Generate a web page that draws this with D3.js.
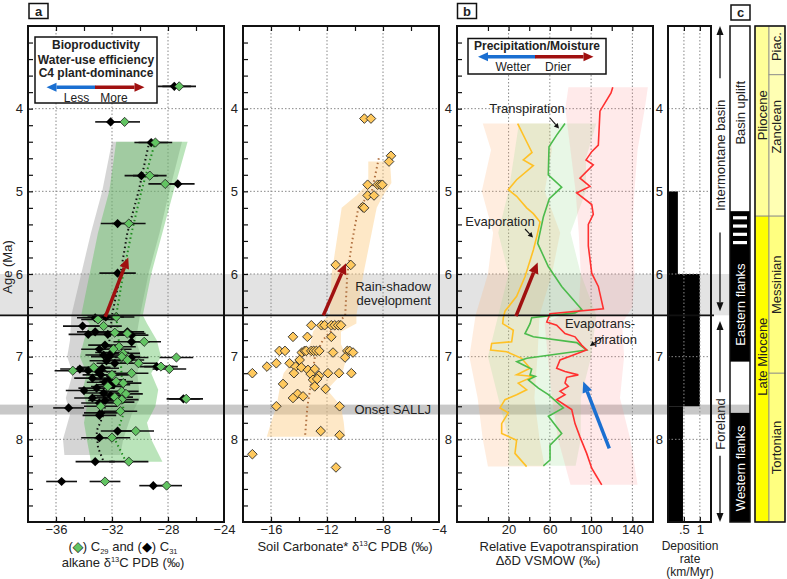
<!DOCTYPE html>
<html><head><meta charset="utf-8">
<script src="https://cdn.jsdelivr.net/npm/d3@7"></script>
<style>body{margin:0;background:#fff} text{font-family:"Liberation Sans",Arial,sans-serif;fill:#222}</style>
</head><body><svg id="c" width="787" height="579"></svg>
<script>
// ---------------- DATA ----------------
const ageTicks = [4,5,6,7,8];
const ageMinor = [3.2,3.4,3.6,3.8,4,4.2,4.4,4.6,4.8,5,5.2,5.4,5.6,5.8,6,6.2,6.4,6.6,6.8,7,7.2,7.4,7.6,7.8,8,8.2,8.4,8.6,8.8];
const aTicks = [-36,-34,-32,-30,-28,-26], aLabels = [-36,-32,-28,-24];
const sTicks = [-16,-14,-12,-10,-8,-6], sLabels = [-16,-12,-8,-4];
const bTicks = [0,20,40,60,80,100,120,140], bLabels = [20,60,100,140];
const dTicks = [0.5,1], dLabels = [".5","1"];
// panel a: [age, d13C, error]
const C29 = [[3.73,-27.2,1.2],[4.16,-31.1,1.1],[4.41,-28.9,1.2],[4.81,-29.3,1.2],[4.91,-28.2,1.2],[5.39,-30.8,1.2],[6.52,-31.7,1.3],[6.55,-33.0,1.2],[6.63,-32.6,1.3],[6.71,-31.8,1.2],[6.72,-30.9,1.3],[6.82,-29.7,1.2],[6.88,-31.5,1.2],[6.91,-31.9,1.3],[6.96,-31.2,1.2],[7.00,-31.3,1.3],[7.01,-27.4,1.2],[7.04,-30.9,1.2],[7.08,-30.1,1.3],[7.12,-28.5,1.2],[7.15,-27.9,1.2],[7.17,-34.8,1.3],[7.13,-33.3,1.2],[7.20,-30.6,1.2],[7.22,-32.0,1.2],[7.30,-31.7,1.2],[7.32,-31.2,1.3],[7.36,-32.3,1.2],[7.42,-31.3,1.2],[7.45,-31.0,1.2],[7.49,-31.8,1.3],[7.52,-31.3,1.2],[7.51,-26.7,1.2],[7.55,-31.6,1.2],[7.60,-32.8,1.2],[7.66,-31.4,1.2],[7.90,-30.3,1.3],[7.98,-32.0,1.3],[8.27,-30.8,1.4],[8.51,-32.5,1.1],[8.56,-28.1,1.1]];
const C31 = [[3.73,-27.55,1.2],[4.16,-32.1,1.1],[4.41,-29.2,1.2],[4.81,-29.9,1.2],[4.91,-27.3,1.2],[5.39,-31.6,1.2],[5.99,-31.6,1.3],[6.52,-32.45,1.3],[6.53,-33.2,1.3],[6.63,-34.1,1.4],[6.70,-33.2,1.3],[6.73,-33.7,1.4],[6.73,-32.3,1.3],[6.70,-30.9,1.2],[6.74,-30.6,1.2],[6.82,-30.6,1.3],[6.86,-32.5,1.2],[6.91,-32.9,1.3],[6.95,-32.0,1.2],[6.98,-32.6,1.3],[7.00,-32.2,1.3],[7.01,-30.6,1.2],[7.05,-32.4,1.2],[7.08,-31.8,1.3],[7.12,-28.8,1.2],[7.15,-34.3,1.4],[7.17,-33.7,1.3],[7.18,-33.0,1.3],[7.14,-32.7,1.2],[7.22,-32.8,1.3],[7.26,-33.4,1.3],[7.28,-32.2,1.2],[7.31,-32.5,1.3],[7.34,-31.9,1.2],[7.38,-33.1,1.3],[7.41,-34.0,1.3],[7.44,-32.6,1.3],[7.47,-32.1,1.2],[7.50,-33.4,1.3],[7.53,-32.5,1.2],[7.56,-32.9,1.3],[7.51,-26.9,1.2],[7.62,-35.1,1.1],[7.68,-32.8,1.2],[7.71,-32.9,1.2],[7.90,-31.6,1.2],[7.98,-32.9,1.3],[8.27,-33.2,1.4],[8.51,-35.6,1.1],[8.56,-29.05,1.0]];
// envelopes [age, low, high]
const C29band = [[4.4,-31.7,-26.6],[5.0,-32.2,-27.6],[5.5,-33.0,-28.4],[6.0,-33.6,-29.2],[6.5,-34.2,-29.8],[6.6,-33.6,-29.5],[6.8,-34.0,-28.8],[7.0,-34.3,-28.5],[7.2,-33.8,-29.2],[7.4,-34.1,-28.7],[7.6,-33.8,-28.9],[7.8,-34.0,-29.5],[8.0,-33.8,-29.2],[8.27,-33.5,-28.4]];
const C31band = [[4.4,-32.0,-27.0],[5.0,-32.7,-27.9],[5.5,-33.5,-28.6],[6.0,-34.2,-29.4],[6.5,-34.9,-30.0],[6.8,-35.0,-30.3],[7.0,-35.2,-29.9],[7.2,-34.8,-30.2],[7.5,-35.3,-30.0],[7.7,-35.0,-30.6],[8.0,-35.5,-31.2],[8.19,-35.4,-31.4]];
const C29mean = [[4.45,-29.0],[5.0,-29.9],[5.5,-30.6],[6.0,-31.2],[6.5,-31.7],[7.0,-31.4],[7.5,-31.2],[7.7,-31.2],[8.0,-31.8],[8.27,-31.0]];
const C31mean = [[4.45,-29.4],[5.0,-30.1],[5.5,-30.9],[6.0,-31.4],[6.5,-32.0],[7.0,-32.3],[7.5,-32.4],[7.7,-32.6],[7.9,-33.1],[8.1,-33.0],[8.27,-32.6]];
// panel soil carbonate [age, d13C]
const soil = [[4.12,-9.33],[4.12,-8.86],[4.57,-7.43],[4.64,-7.57],[4.92,-9.1],[4.92,-8.38],[4.92,-8.2],[4.92,-8.05],[5.05,-9.1],[5.05,-8.64],[5.19,-9.45],[5.20,-9.35],[5.89,-11.38],[5.89,-10.3],[6.62,-13.12],[6.62,-12.4],[6.62,-12.17],[6.62,-11.69],[6.62,-11.45],[6.62,-11.2],[6.62,-11.0],[6.76,-14.43],[6.76,-13.4],[6.76,-11.69],[6.93,-15.4],[6.93,-15.0],[6.95,-13.8],[6.93,-13.6],[6.93,-13.48],[6.93,-13.12],[6.93,-12.95],[6.93,-12.76],[6.93,-12.55],[6.95,-11.57],[6.93,-10.55],[6.93,-10.38],[6.95,-10.14],[7.01,-10.71],[7.04,-13.95],[7.08,-14.67],[7.08,-15.62],[7.12,-16.29],[7.12,-14.24],[7.13,-13.83],[7.16,-13.36],[7.15,-12.88],[7.20,-17.33],[7.20,-14.36],[7.21,-13.17],[7.23,-12.57],[7.20,-11.93],[7.20,-11.14],[7.20,-10.26],[7.28,-13.0],[7.27,-12.7],[7.33,-15.14],[7.36,-12.88],[7.39,-12.1],[7.45,-14.1],[7.50,-14.43],[7.48,-13.71],[7.60,-15.62],[7.60,-11.1],[7.90,-12.45],[7.95,-11.1],[8.18,-17.33],[8.34,-11.36]];
const soilBand = [[4.64,-9.05,-7.5],[4.9,-9.05,-7.4],[5.05,-9.9,-8.0],[5.2,-10.95,-8.45],[6.0,-11.67,-9.4],[6.5,-11.8,-9.9],[6.6,-12.6,-9.9],[6.7,-13.0,-11.0],[6.85,-13.2,-11.0],[7.0,-14.2,-10.6],[7.2,-15.1,-10.9],[7.4,-15.4,-12.0],[7.6,-15.6,-11.0],[7.8,-16.0,-10.8],[7.97,-16.3,-10.7]];
const soilMean = [[4.6,-8.3],[5.0,-8.8],[5.2,-9.76],[5.6,-10.2],[6.0,-10.55],[6.5,-10.7],[6.8,-12.3],[7.0,-12.86],[7.4,-13.21],[7.6,-13.4],[7.97,-13.57]];
// panel b lines [age, dD]
const evaporation = [[4.18,28.8],[4.40,37.5],[4.53,42.7],[4.62,34.3],[4.69,44.0],[4.86,27.8],[4.98,19.7],[5.06,27.8],[5.20,37.5],[5.27,44.0],[5.37,50.5],[5.55,47.3],[5.71,44.0],[6.03,36.0],[6.27,27.8],[6.45,16.5],[6.53,14.9],[6.60,14.3],[6.68,24.6],[6.82,23.0],[6.84,3.6],[6.92,2.6],[6.94,18.1],[7.02,32.7],[7.14,40.8],[7.22,27.8],[7.24,44.0],[7.32,29.4],[7.40,37.5],[7.46,27.8],[7.52,16.5],[7.62,11.7],[7.68,19.7],[7.81,13.3],[7.93,13.3],[8.01,27.8],[8.17,26.2],[8.33,37.5]];
const transpiration = [[4.18,74.7],[4.32,66.6],[4.46,59.2],[4.80,58.5],[4.95,71.5],[5.09,59.5],[5.31,53.7],[5.63,48.2],[5.91,58.5],[6.15,71.5],[6.43,90.9],[6.47,84.4],[6.53,42.4],[6.60,40.8],[6.72,35.9],[6.76,44.0],[6.83,86.0],[6.92,95.7],[7.02,37.7],[7.06,28.0],[7.10,34.4],[7.15,42.4],[7.22,40.8],[7.24,45.9],[7.28,39.2],[7.38,48.9],[7.46,58.6],[7.62,73.1],[7.72,58.6],[7.93,71.5],[8.07,60.2],[8.25,60.2],[8.32,53.7]];
const evapotranspiration = [[3.74,121],[3.81,119.3],[4.03,108.6],[4.44,107],[4.52,100.6],[4.62,95.1],[4.68,102.1],[4.84,89.2],[4.94,98.9],[5.02,86.0],[5.16,100.6],[5.28,102.1],[5.40,97.3],[5.66,97.3],[5.99,100.6],[6.15,107],[6.42,111.9],[6.48,60.2],[6.58,57.0],[6.62,66.6],[6.72,74.7],[6.76,84.4],[6.86,90.8],[6.92,95.7],[6.98,82.8],[7.04,69.9],[7.14,66.6],[7.18,74.7],[7.22,87.6],[7.25,76.3],[7.32,74.7],[7.36,77.9],[7.42,69.9],[7.46,74.7],[7.52,66.6],[7.60,76.3],[7.64,81.2],[7.81,84.4],[7.97,89.2],[8.17,95.7],[8.35,100.6],[8.45,105.4],[8.55,110.3]];
const evapBand = [[4.18,-5,60],[4.5,3,62],[5.0,-6,55],[5.5,5,70],[6.0,0,62],[6.5,-12,50],[7.0,-18,48],[7.5,-10,45],[8.0,-5,50],[8.33,0,55]];
const transBand = [[4.18,30,105],[4.6,25,95],[5.0,20,95],[5.5,10,80],[6.0,20,90],[6.5,10,105],[7.0,0,100],[7.5,10,90],[8.0,20,90],[8.32,20,85]];
const etBand = [[3.74,78,155],[4.0,75,152],[4.5,80,145],[5.0,85,142],[5.5,88,140],[6.0,90,142],[6.4,88,140],[6.6,55,130],[7.0,58,132],[7.5,62,128],[8.0,68,138],[8.55,80,145]];
// deposition rate [from age, to age, km/Myr]
const deposition = [[5.0,6.0,0.31],[6.0,7.6,1.0],[7.6,9.0,0.47]];
// stratigraphy
const epochs = [{name:"Pliocene",from:3,to:5.3,label:4.08,color:"#ffff99"},{name:"Late Miocene",from:5.3,to:9,label:7.0,color:"#ffff00"}];
const stages = [{name:"Piac.",from:3,to:3.59,label:3.25,color:"#ffffbf"},{name:"Zanclean",from:3.59,to:5.3,label:4.22,color:"#ffffb3"},{name:"Messinian",from:5.3,to:7.2,label:6.13,color:"#ffff80"},{name:"Tortonian",from:7.2,to:9,label:8.1,color:"#ffff80"}];
const tectBlack = [[5.24,7.06],[7.68,9.0]];
const tectStripes = [5.32,5.42,5.52,5.62];
const tectLabels = [{t:"Basin uplift",age:4.05,c:"#222"},{t:"Eastern flanks",age:6.37,c:"#fff"},{t:"Western flanks",age:8.35,c:"#fff"}];
const basinArrows = [{t:"Intermontane basin",from:3.0,to:6.45,tFrom:3.68,tTo:5.45},{t:"Foreland",from:6.57,to:9.0,tFrom:7.48,tTo:8.15}];
const bands = [{from:6.0,to:6.5,color:"#e3e3e3"},{from:7.58,to:7.7,color:"#c8c8c8"}];

// ---------------- SCALES ----------------
const svg = d3.select("#c");
const TOP = 26, BOT = 522;
const y = d3.scaleLinear().domain([3,9]).range([TOP,BOT]);
const xa = d3.scaleLinear().domain([-38,-24]).range([28,224]);
const xs = d3.scaleLinear().domain([-18,-4]).range([243,439]);
const xb = d3.scaleLinear().domain([-30,160]).range([457,653]);
const xd = d3.scaleLinear().domain([0,1.35]).range([668,711]);

// ---------------- HELPERS ----------------
function arrow(g,x1,y1,x2,y2,color,w,hl,hw){
  const a=Math.atan2(y2-y1,x2-x1), bx=x2-hl*Math.cos(a), by=y2-hl*Math.sin(a);
  g.append("line").attr("x1",x1).attr("y1",y1).attr("x2",bx).attr("y2",by).attr("stroke",color).attr("stroke-width",w);
  const px=-Math.sin(a)*hw, py=Math.cos(a)*hw;
  g.append("path").attr("d",`M${x2},${y2}L${bx+px},${by+py}L${bx-px},${by-py}Z`).attr("fill",color);
}
const diamond = r => `M0,${-r}L${r},0L0,${r}L${-r},0Z`;
function clip(id,x){ svg.append("clipPath").attr("id",id).append("rect").attr("x",x.range()[0]).attr("y",TOP).attr("width",x.range()[1]-x.range()[0]).attr("height",BOT-TOP); }
function grid(x,vals){
  const g=svg.append("g");
  vals.forEach(v=>g.append("line").attr("x1",x(v)).attr("x2",x(v)).attr("y1",TOP).attr("y2",BOT));
  ageTicks.forEach(a=>g.append("line").attr("x1",x.range()[0]).attr("x2",x.range()[1]).attr("y1",y(a)).attr("y2",y(a)));
  g.selectAll("line").attr("stroke","#888").attr("stroke-width",1).attr("stroke-dasharray","1.5,2");
}
function styleAxis(g){ g.select(".domain").remove(); g.selectAll(".tick line").attr("stroke","#111").attr("stroke-width",1.2); g.selectAll("text").attr("font-size",13).attr("fill","#222").style("font-family","Liberation Sans, Arial, sans-serif"); }
function frame(x,ticks,labels,fmt,leftMinor=true){
  const [x0,x1]=x.range();
  if(leftMinor) svg.append("g").attr("transform",`translate(${x0},0)`).call(d3.axisLeft(y).tickValues(ageMinor).tickSize(-5).tickFormat("")).call(styleAxis);
  svg.append("g").attr("transform",`translate(${x0},0)`).call(d3.axisLeft(y).tickValues(ageTicks).tickSize(0).tickPadding(5).tickFormat(d3.format("d"))).call(styleAxis);
  svg.append("g").attr("transform",`translate(0,${TOP})`).call(d3.axisTop(x).tickValues(ticks).tickSize(-5).tickFormat("")).call(styleAxis);
  svg.append("g").attr("transform",`translate(0,${BOT})`).call(d3.axisBottom(x).tickValues(ticks).tickSize(-5).tickFormat("")).call(styleAxis);
  svg.append("g").attr("transform",`translate(0,${BOT})`).call(d3.axisBottom(x).tickValues(labels).tickSize(0).tickPadding(2.5).tickFormat(fmt)).call(styleAxis);
  svg.append("rect").attr("x",x0).attr("y",TOP).attr("width",x1-x0).attr("height",BOT-TOP).attr("fill","none").attr("stroke","#111").attr("stroke-width",2);
}
function areaOf(x,band,fill,cl){
  svg.append("path").attr("clip-path",`url(#${cl})`).attr("d",d3.area().y(d=>y(d[0])).x0(d=>x(d[1])).x1(d=>x(d[2]))(band)).attr("fill",fill);
}
function lineOf(x,data,stroke,w,dash,cl){
  svg.append("path").attr("clip-path",`url(#${cl})`).attr("d",d3.line().y(d=>y(d[0])).x(d=>x(d[1]))(data)).attr("fill","none").attr("stroke",stroke).attr("stroke-width",w).attr("stroke-dasharray",dash);
}
function boxLabel(t,x,yy){
  const g=svg.append("g");
  g.append("rect").attr("x",x).attr("y",yy).attr("width",19).attr("height",15).attr("fill","#fff").attr("stroke","#111").attr("stroke-width",1.5);
  g.append("text").attr("x",x+9.5).attr("y",yy+12).attr("text-anchor","middle").attr("font-weight","bold").attr("font-size",13).text(t);
}

clip("ca",xa); clip("cs",xs); clip("cb",xb);

// ---------------- BACKGROUND BANDS ----------------
bands.forEach(b=>svg.append("rect").attr("x",0).attr("width",750).attr("y",y(b.from)).attr("height",y(b.to)-y(b.from)).attr("fill",b.color));

// ---------------- PANEL a ----------------
grid(xa,[-36,-32,-28]);
areaOf(xa,C31band,"rgba(150,150,150,0.40)","ca");
areaOf(xa,C29band,"rgba(90,190,90,0.42)","ca");
lineOf(xa,C31mean,"#111",2,"1.5,3","ca");
lineOf(xa,C29mean,"#1e8c1e",2,"1.5,3","ca");
const ga=svg.append("g").attr("clip-path","url(#ca)");
[...C31,...C29].forEach(d=>ga.append("line").attr("x1",xa(d[1]-d[2])).attr("x2",xa(d[1]+d[2])).attr("y1",y(d[0])).attr("y2",y(d[0])).attr("stroke","#111").attr("stroke-width",1.6));
C31.forEach(d=>ga.append("path").attr("transform",`translate(${xa(d[1])},${y(d[0])})`).attr("d",diamond(4.6)).attr("fill","#000"));
C29.forEach(d=>ga.append("path").attr("transform",`translate(${xa(d[1])},${y(d[0])})`).attr("d",diamond(4.6)).attr("fill","#62c462").attr("stroke","#1a1a1a").attr("stroke-width",0.8));

// ---------------- PANEL soil ----------------
grid(xs,[-16,-12,-8]);
areaOf(xs,soilBand,"rgba(253,205,130,0.45)","cs");
lineOf(xs,soilMean,"#b07040",2,"1.5,3","cs");
const gs=svg.append("g").attr("clip-path","url(#cs)");
soil.forEach(d=>gs.append("path").attr("transform",`translate(${xs(d[1])},${y(d[0])})`).attr("d",diamond(4.8)).attr("fill","#ffc95e").attr("stroke","#2a2a2a").attr("stroke-width",0.9));

// ---------------- PANEL b ----------------
grid(xb,[20,60,100,140]);
areaOf(xb,evapBand,"rgba(255,175,110,0.22)","cb");
areaOf(xb,transBand,"rgba(150,220,140,0.22)","cb");
areaOf(xb,etBand,"rgba(255,140,140,0.18)","cb");
lineOf(xb,evaporation,"#ffc125",1.6,null,"cb");
lineOf(xb,transpiration,"#4cbb4c",1.6,null,"cb");
lineOf(xb,evapotranspiration,"#ff3030",1.6,null,"cb");

// ---------------- DEPOSITION ----------------
const gd=svg.append("g");
deposition.forEach(d=>gd.append("rect").attr("x",xd(0)).attr("width",xd(d[2])-xd(0)).attr("y",y(d[0])).attr("height",y(d[1])-y(d[0])).attr("fill","#000"));
[0.5,1].forEach(v=>gd.append("line").attr("x1",xd(v)).attr("x2",xd(v)).attr("y1",TOP).attr("y2",BOT).attr("stroke","#888").attr("stroke-dasharray","1.5,2"));
ageTicks.forEach(a=>gd.append("line").attr("x1",xd(0)).attr("x2",xd(1.35)).attr("y1",y(a)).attr("y2",y(a)).attr("stroke","#888").attr("stroke-dasharray","1.5,2"));

// 6.5 Ma line
svg.append("line").attr("x1",0).attr("x2",714).attr("y1",y(6.5)).attr("y2",y(6.5)).attr("stroke","#111").attr("stroke-width",1.6);

frame(xa,aTicks,aLabels,d3.format("d"));
frame(xs,sTicks,sLabels,d3.format("d"));
frame(xb,bTicks,bLabels,d3.format("d"));
frame(xd,dTicks,dTicks,(d,i)=>dLabels[i],false);

// ---------------- ARROWS ----------------
const dark="#a01010";
arrow(svg,xa(-32.48),y(6.52),xa(-30.84),y(5.8),dark,3.5,11,5);
arrow(svg,xs(-12.26),y(6.5),xs(-10.64),y(5.87),dark,3.5,11,5);
arrow(svg,xb(27.2),y(6.51),xb(48.2),y(5.86),dark,3.5,11,5);
arrow(svg,xb(117.6),y(8.11),xb(92.4),y(7.30),"#1a6fd1",3.5,11,5);

// ---------------- TEXT ANNOTATIONS ----------------
function txt(x,yy,t,o={}){ return svg.append("text").attr("x",x).attr("y",yy).attr("text-anchor",o.anchor||"middle").attr("font-size",o.size||13).attr("font-weight",o.bold?"bold":null).text(t); }
txt(431,291,"Rain-shadow",{anchor:"end"});
txt(431,305,"development",{anchor:"end"});
txt(431,414,"Onset SALLJ",{anchor:"end"});
txt(527,113,"Transpiration");
arrow(svg,550,118,559,128.5,"#111",1.1,5,2.6);
txt(500,226,"Evaporation");
arrow(svg,525,229,533,237.5,"#111",1.1,5,2.6);
txt(635,328,"Evapotrans-",{anchor:"end"});
txt(637,344,"piration",{anchor:"end"});
arrow(svg,603,337,590,346,"#111",1.1,5,2.6);

// legend a
svg.append("rect").attr("x",35).attr("y",37).attr("width",122).attr("height",66).attr("fill","#fff").attr("stroke","#111").attr("stroke-width",1.5);
txt(96,48.5,"Bioproductivity",{bold:true,size:12});
txt(96,63.5,"Water-use efficiency",{bold:true,size:12});
txt(96,77,"C4 plant-dominance",{bold:true,size:12});
arrow(svg,95.5,87.3,46.5,87.3,"#1a6fd1",3.5,10,4.5);
arrow(svg,95,87.3,144.5,87.3,dark,3.5,10,4.5);
txt(76.5,101.5,"Less",{size:12}); txt(114,101.5,"More",{size:12});
// legend b
svg.append("rect").attr("x",468).attr("y",38.5).attr("width",138).attr("height",35.5).attr("fill","#fff").attr("stroke","#111").attr("stroke-width",1.5);
txt(537,49.5,"Precipitation/Moisture",{bold:true,size:12});
arrow(svg,535.5,56.7,478,56.7,"#1a6fd1",3.5,10,4.5);
arrow(svg,535,56.7,593.5,56.7,dark,3.5,10,4.5);
txt(513,71,"Wetter",{size:12}); txt(558,71,"Drier",{size:12});

boxLabel("a",29,3.5); boxLabel("b",457.5,3.5); boxLabel("c",731,5);

// axis titles
svg.append("text").attr("transform","translate(12,267) rotate(-90)").attr("text-anchor","middle").attr("font-size",13).text("Age (Ma)");
const t1=svg.append("text").attr("x",123).attr("y",551).attr("text-anchor","middle").attr("font-size",13);
t1.append("tspan").text("(");
t1.append("tspan").text("◆").attr("fill","#62c462").attr("stroke","#111").attr("stroke-width",0.6);
t1.append("tspan").text(") C");
t1.append("tspan").text("29").attr("font-size",7.5).attr("dy",2.5);
t1.append("tspan").text(" and (").attr("dy",-2.5);
t1.append("tspan").text("◆").attr("fill","#000");
t1.append("tspan").text(") C");
t1.append("tspan").text("31").attr("font-size",7.5).attr("dy",2.5);
const t2=svg.append("text").attr("x",123).attr("y",567).attr("text-anchor","middle").attr("font-size",13);
t2.append("tspan").text("alkane δ");
t2.append("tspan").text("13").attr("font-size",7.5).attr("dy",-5);
t2.append("tspan").text("C PDB (‰)").attr("dy",5);
const t3=svg.append("text").attr("x",345).attr("y",551).attr("text-anchor","middle").attr("font-size",13);
t3.append("tspan").text("Soil Carbonate* δ");
t3.append("tspan").text("13").attr("font-size",7.5).attr("dy",-5);
t3.append("tspan").text("C PDB (‰)").attr("dy",5);
txt(559,551,"Relative Evapotranspiration");
txt(548,565,"ΔδD VSMOW (‰)");
txt(690,550,"Deposition",{size:12}); txt(690,563,"rate",{size:12}); txt(690,576,"(km/Myr)",{size:12});

// ---------------- BASIN ARROWS ----------------
const AX=720;
basinArrows.forEach(b=>{
  arrow(svg,AX,y(b.tFrom)-4,AX,y(b.from),"#111",1.3,9,3.5);
  arrow(svg,AX,y(b.tTo)+4,AX,y(b.to),"#111",1.3,9,3.5);
  svg.append("text").attr("transform",`translate(${AX+4.5},${y((b.tFrom+b.tTo)/2)}) rotate(-90)`).attr("text-anchor","middle").attr("font-size",13).text(b.t);
});

// ---------------- TECTONIC COLUMN c ----------------
const CX0=730, CX1=750;
tectBlack.forEach(s=>svg.append("rect").attr("x",CX0).attr("width",CX1-CX0).attr("y",y(s[0])).attr("height",y(s[1])-y(s[0])).attr("fill","#000"));
tectStripes.forEach(a=>svg.append("rect").attr("x",CX0+3).attr("width",CX1-CX0-6).attr("y",y(a)-1.6).attr("height",3.2).attr("fill","#fff"));
svg.append("rect").attr("x",CX0).attr("y",TOP).attr("width",CX1-CX0).attr("height",BOT-TOP).attr("fill","none").attr("stroke","#111").attr("stroke-width",1.5);
tectLabels.forEach(l=>svg.append("text").attr("transform",`translate(${CX0+14.5},${y(l.age)}) rotate(-90)`).attr("text-anchor","middle").attr("font-size",13).style("fill",l.c).text(l.t));

// ---------------- TIMESCALE ----------------
const EX0=755, EX1=769, SX1=785;
epochs.forEach(e=>{
  svg.append("rect").attr("x",EX0).attr("width",EX1-EX0).attr("y",y(e.from)).attr("height",y(e.to)-y(e.from)).attr("fill",e.color).attr("stroke","#888").attr("stroke-width",0.8);
  svg.append("text").attr("transform",`translate(${EX0+11.5},${y(e.label)}) rotate(-90)`).attr("text-anchor","middle").attr("font-size",13).text(e.name);
});
stages.forEach(s=>{
  svg.append("rect").attr("x",EX1).attr("width",SX1-EX1).attr("y",y(s.from)).attr("height",y(s.to)-y(s.from)).attr("fill",s.color).attr("stroke","#888").attr("stroke-width",0.8);
  svg.append("text").attr("transform",`translate(${EX1+12},${y(s.label)}) rotate(-90)`).attr("text-anchor","middle").attr("font-size",13).text(s.name);
});
svg.append("rect").attr("x",EX0).attr("y",TOP).attr("width",SX1-EX0).attr("height",BOT-TOP).attr("fill","none").attr("stroke","#111").attr("stroke-width",1.5);
</script></body></html>
